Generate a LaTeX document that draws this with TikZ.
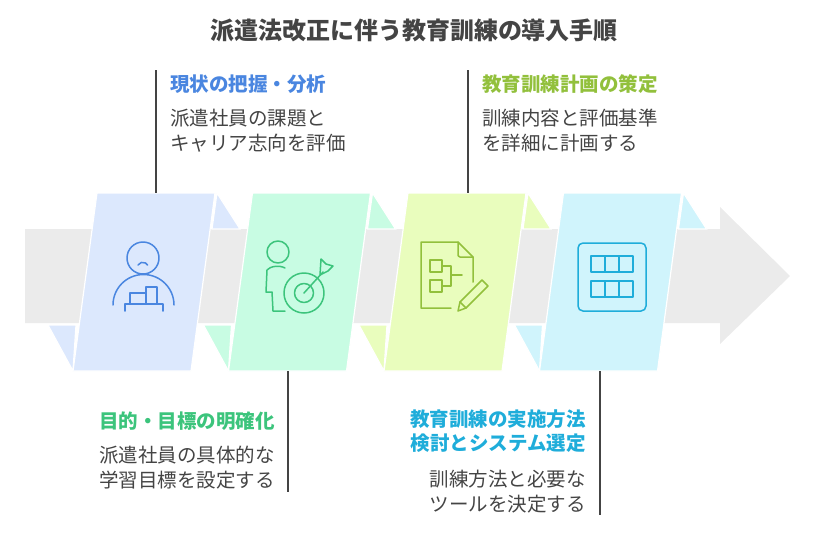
\documentclass[tikz,border=0pt]{standalone}
\usepackage{fontspec}
\setmainfont{Noto Sans CJK JP}
\usetikzlibrary{calc}
\definecolor{gb}{HTML}{EBEBEB}
\definecolor{p1}{HTML}{DCE8FD}\definecolor{c1}{HTML}{4A86E0}
\definecolor{p2}{HTML}{C8FCE3}\definecolor{c2}{HTML}{3CC47C}
\definecolor{p3}{HTML}{E9FDBD}\definecolor{c3}{HTML}{92C03C}
\definecolor{p4}{HTML}{D0F4FC}\definecolor{c4}{HTML}{1FADDA}
\definecolor{tx}{HTML}{444444}
\begin{document}
\begin{tikzpicture}[x=1pt,y=-1pt,
  flap/.style={draw=white,line width=1.2pt},
  ln/.style={draw=tx,line width=1.5pt},
  ic/.style={line width=1.5pt,line cap=round,line join=round},
  head/.style={font=\bfseries\fontsize{19.5}{24}\selectfont,inner sep=0},
  body/.style={font=\fontsize{19.5}{25}\selectfont,text=tx,inner sep=0,align=left}]
\useasboundingbox (0,0) rectangle (828,542);
\node[font=\bfseries\fontsize{24}{28}\selectfont,text=tx] (title) at (414,30) {派遣法改正に伴う教育訓練の導入手順};
% gray band and arrow
\path[fill=gb] (25,229) -- (720,229) -- (720,207) -- (790,276) -- (720,344) -- (720,323) -- (25,323) -- cycle;
% panels
\foreach \i/\f in {0/p1,1/p2,2/p3,3/p4}{
  \pgfmathsetmacro{\dx}{155.5*\i}
  \begin{scope}[xshift=\dx]
   \path[flap,fill=\f] (217,193) -- (240,229) -- (212,229) -- cycle;
   \path[flap,fill=\f] (48,325) -- (76,325) -- (73,371) -- cycle;
   \path[flap,fill=\f] (97,193) -- (215,193) -- (191,371) -- (73,371) -- cycle;
  \end{scope}}
% connectors
\coordinate (a1) at (156,70); \coordinate (a2) at (156,193);
\coordinate (b1) at (288,371); \coordinate (b2) at (288,492);
\coordinate (c1x) at (468,70); \coordinate (c2x) at (468,193);
\coordinate (d1) at (600,371); \coordinate (d2) at (600,515);
\draw[ln] (a1)--(a2); \draw[ln] (b1)--(b2); \draw[ln] (c1x)--(c2x); \draw[ln] (d1)--(d2);
% texts
\node[head,text=c1,anchor=west] (h1) at (170,84) {現状の把握・分析};
\node[body,anchor=north west] (t1) at (170,109) {派遣社員の課題と\\キャリア志向を評価};
\node[head,text=c3,anchor=west] (h3) at (482,84) {教育訓練計画の策定};
\node[body,anchor=north west] (t3) at (482,109) {訓練内容と評価基準\\を詳細に計画する};
\node[head,text=c2,anchor=east] (h2) at (275,421) {目的・目標の明確化};
\node[body,anchor=north east,align=right] (t2) at (275,446) {派遣社員の具体的な\\学習目標を設定する};
\node[head,text=c4,anchor=north east,align=right] (h4) at (586,410) {教育訓練の実施方法\\検討とシステム選定};
\node[body,anchor=north east,align=right] (t4) at (586,470) {訓練方法と必要な\\ツールを決定する};
% icon 1
\begin{scope}[ic,draw=c1]
 \draw (143,258) circle (16);
 \draw (138,265) arc (210:330:5.5);
 \draw (113,305) arc (180:360:30.5);
 \draw (125,311) -- (125,304) -- (163,304) -- (163,311);
 \draw (130,304) -- (130,293) -- (146,293) -- (146,304);
 \draw (146,293) -- (146,287) -- (157,287) -- (157,304);
\end{scope}
% icon 2
\begin{scope}[ic,draw=c2]
 \draw (278,252) circle (11);
 \draw (285,268) .. controls (280,265) and (270,266) .. (267,270) -- (266,292) -- (272,292) -- (273,311) -- (285,311);
 \draw (304,293) circle (20);
 \draw (304,293) circle (9.5);
 \draw (304,293) -- (323,272);
 \draw (320,275) -- (321,259) -- (326,264) -- (333,266) -- (328,271) -- cycle;
\end{scope}
% icon 3
\begin{scope}[ic,draw=c3]
 \draw (451,308) -- (421,308) -- (421,242) -- (458,242) -- (473,257) -- (473,282);
 \draw (458,242) -- (458,254) .. controls (458,256) .. (460,257) -- (473,257);
 \draw (430,260) rectangle (442,272);
 \draw (430,280) rectangle (442,292);
 \draw (442,266) -- (451,266) -- (451,286) -- (442,286);
 \draw (451,275) -- (462,275);
 \draw (458,311) -- (460,302) -- (482,280) -- (488,286) -- (466,308) -- cycle;
 \draw (460,302) -- (466,308);
\end{scope}
% icon 4
\begin{scope}[ic,draw=c4]
 \draw[rounded corners=5] (578,243) rectangle (646,311);
 \draw (591,256) rectangle (633,272);
 \draw (605,256) -- (605,272); \draw (619,256) -- (619,272);
 \draw (591,281) rectangle (633,297);
 \draw (605,281) -- (605,297); \draw (619,281) -- (619,297);
\end{scope}
\end{tikzpicture}
\end{document}
